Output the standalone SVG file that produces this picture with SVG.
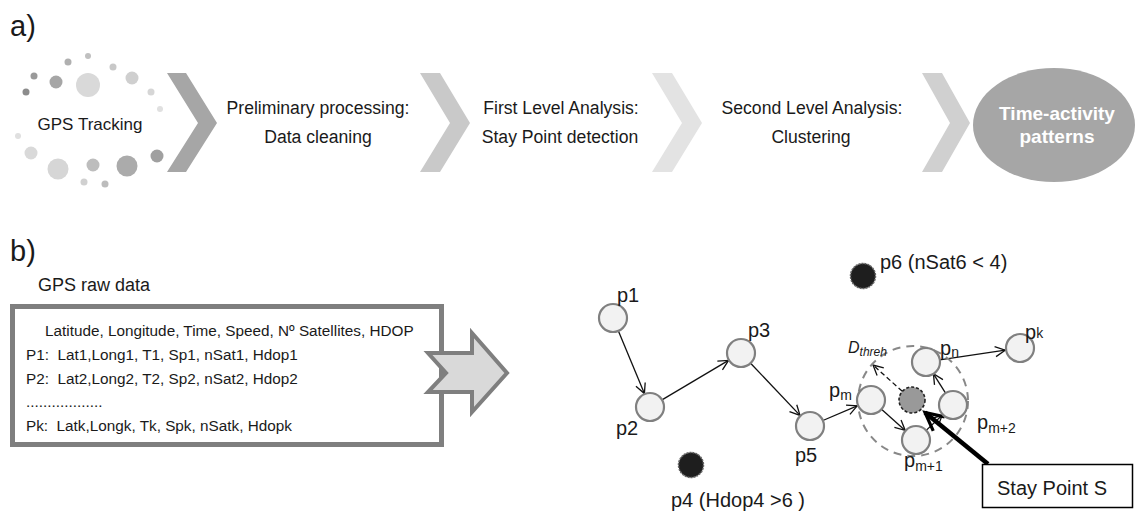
<svg xmlns="http://www.w3.org/2000/svg" width="1135" height="511" viewBox="0 0 1135 511">
<style>
text{font-family:"Liberation Sans",Arial,sans-serif;fill:#1a1a1a}
.step{font-size:17.6px;text-anchor:middle}
.lbl{font-size:20px}
.sub{font-size:14px}
.box{font-size:15.3px}
.pt{fill:#f2f2f2;stroke:#808080;stroke-width:2.2}
.bad{fill:#1e1e1e;stroke:#666;stroke-width:1.5;stroke-dasharray:2 1}
.edge{stroke:#111;stroke-width:1.3;fill:none}
</style>
<defs>
<marker id="ah" viewBox="0 0 12 12" refX="11" refY="6" markerWidth="12" markerHeight="12" markerUnits="userSpaceOnUse" orient="auto">
<path d="M1,1 L11,6 L1,11" fill="none" stroke="#111" stroke-width="1.3"/>
</marker>
<marker id="ahk" viewBox="0 0 12 12" refX="10" refY="6" markerWidth="24" markerHeight="24" markerUnits="userSpaceOnUse" orient="auto">
<path d="M1,1.5 L10,6 L1,10.5" fill="none" stroke="#000" stroke-width="1.6"/>
</marker>
</defs>

<text x="10" y="36" style="font-size:29px">a)</text>
<text x="10" y="261" style="font-size:29px">b)</text>

<g id="gps-tracking">
<circle cx="88" cy="56" r="3" fill="#c0c0c0"/>
<circle cx="68" cy="62" r="3.5" fill="#b0b0b0"/>
<circle cx="113" cy="67" r="3.5" fill="#c8c8c8"/>
<circle cx="34" cy="76" r="3.5" fill="#9a9a9a"/>
<circle cx="56" cy="82" r="6.5" fill="#a6a6a6"/>
<circle cx="88" cy="85" r="12" fill="#d9d9d9"/>
<circle cx="132" cy="78" r="6.5" fill="#cfcfcf"/>
<circle cx="26" cy="92" r="3.5" fill="#8c8c8c"/>
<circle cx="151" cy="92" r="3.5" fill="#d6d6d6"/>
<circle cx="160" cy="109" r="3" fill="#e0e0e0"/>
<circle cx="18" cy="136" r="3" fill="#e0e0e0"/>
<circle cx="31" cy="153" r="6.5" fill="#d9d9d9"/>
<circle cx="157" cy="156" r="6.5" fill="#a0a0a0"/>
<circle cx="58" cy="169" r="10.5" fill="#d6d6d6"/>
<circle cx="93" cy="165" r="6.5" fill="#bdbdbd"/>
<circle cx="127" cy="166" r="10.5" fill="#ababab"/>
<circle cx="84" cy="182" r="3.5" fill="#d0d0d0"/>
<circle cx="105" cy="184" r="3.5" fill="#bcbcbc"/>
<text x="90" y="130" style="font-size:17px;text-anchor:middle">GPS Tracking</text>
</g>

<g id="chevrons">
<path d="M167,73 L186,73 L217,123 L186,172 L167,172 L198,123 Z" fill="#a6a6a6"/>
<path d="M420,73 L440,73 L470,123 L440,172 L420,172 L450,123 Z" fill="#c9c9c9"/>
<path d="M652,73 L672,73 L702,123 L672,172 L652,172 L682,123 Z" fill="#e3e3e3"/>
<path d="M922,73 L942,73 L970,123 L942,172 L922,172 L950,123 Z" fill="#d0d0d0"/>
</g>

<g id="step-preliminary">
<text class="step" x="318" y="114">Preliminary processing:</text>
<text class="step" x="318" y="143">Data cleaning</text>
</g>
<g id="step-first">
<text class="step" x="561" y="114">First Level Analysis:</text>
<text class="step" x="560" y="143">Stay Point detection</text>
</g>
<g id="step-second">
<text class="step" x="812" y="114">Second Level Analysis:</text>
<text class="step" x="811" y="143">Clustering</text>
</g>
<g id="time-activity">
<ellipse cx="1054" cy="125" rx="81" ry="57" fill="#a6a6a6"/>
<text x="1057" y="120" style="font-size:19px;font-weight:bold;fill:#fff;text-anchor:middle">Time-activity</text>
<text x="1057" y="143" style="font-size:19px;font-weight:bold;fill:#fff;text-anchor:middle">patterns</text>
</g>

<g id="raw-data">
<text x="38" y="291" style="font-size:18px">GPS raw data</text>
<rect x="12.5" y="306.5" width="429" height="138" fill="#fff" stroke="#7f7f7f" stroke-width="5"/>
<text class="box" x="45" y="336">Latitude, Longitude, Time, Speed, Nº Satellites, HDOP</text>
<text class="box" x="26" y="360" xml:space="preserve">P1:  Lat1,Long1, T1, Sp1, nSat1, Hdop1</text>
<text class="box" x="26" y="384" xml:space="preserve">P2:  Lat2,Long2, T2, Sp2, nSat2, Hdop2</text>
<text class="box" x="26" y="407">..................</text>
<text class="box" x="26" y="431" xml:space="preserve">Pk:  Latk,Longk, Tk, Spk, nSatk, Hdopk</text>
</g>
<g id="big-arrow">
<path d="M428,353 L472,353 L472,333 L507,373 L472,412 L472,392 L428,392 L446,373 Z" fill="#d9d9d9" stroke="#7f7f7f" stroke-width="4" stroke-linejoin="miter"/>
</g>

<g id="connectors">
<line class="edge" x1="618.4" y1="330.9" x2="644.4" y2="393.6" marker-end="url(#ah)"/>
<line class="edge" x1="662" y1="399.9" x2="728.5" y2="360.4" marker-end="url(#ah)"/>
<line class="edge" x1="750.6" y1="363.2" x2="800" y2="415.4" marker-end="url(#ah)"/>
<line class="edge" x1="822.9" y1="420.5" x2="857.2" y2="405.9" marker-end="url(#ah)"/>
<line class="edge" x1="881.5" y1="409.3" x2="905.2" y2="430.4" marker-end="url(#ah)"/>
<line class="edge" x1="926.2" y1="430.4" x2="942.1" y2="415.3" marker-end="url(#ah)"/>
<line class="edge" x1="945.6" y1="393.1" x2="933.4" y2="373.8" marker-end="url(#ah)"/>
<line class="edge" x1="939.8" y1="359.9" x2="1005.2" y2="350.2" marker-end="url(#ah)"/>
<line class="edge" x1="902.3" y1="391.3" x2="873" y2="365" stroke-dasharray="5 3" marker-end="url(#ah)"/>
<line x1="988" y1="464" x2="925" y2="412.5" stroke="#000" stroke-width="4.5" marker-end="url(#ahk)"/>
</g>

<g id="threshold">
<circle cx="913" cy="401" r="55" fill="none" stroke="#888" stroke-width="2" stroke-dasharray="8 6"/>
<text x="848" y="353" style="font-size:16px;font-style:italic">D<tspan style="font-size:12px" dy="3">threh</tspan></text>
</g>

<g id="p1"><circle class="pt" cx="613" cy="318" r="14"/><text class="lbl" x="617" y="302">p1</text></g>
<g id="p2"><circle class="pt" cx="650" cy="407" r="14"/><text class="lbl" x="616" y="435">p2</text></g>
<g id="p3"><circle class="pt" cx="741" cy="353" r="14"/><text class="lbl" x="748" y="337">p3</text></g>
<g id="p4"><circle class="bad" cx="691" cy="465" r="12.5"/><text class="lbl" x="671" y="507">p4 (Hdop4 &gt;6 )</text></g>
<g id="p5"><circle class="pt" cx="810" cy="426" r="14"/><text class="lbl" x="795" y="462">p5</text></g>
<g id="p6"><circle class="bad" cx="863" cy="276" r="12.5"/><text class="lbl" x="880" y="269">p6 (nSat6 &lt; 4)</text></g>
<g id="pm"><circle class="pt" cx="871" cy="400" r="14"/><text class="lbl" x="829" y="397">p<tspan class="sub" dy="3">m</tspan></text></g>
<g id="pm1"><circle class="pt" cx="916" cy="440" r="14"/><text class="lbl" x="904" y="467">p<tspan class="sub" dy="4">m+1</tspan></text></g>
<g id="pm2"><circle class="pt" cx="953" cy="405" r="14"/><text class="lbl" x="977" y="429">p<tspan class="sub" dy="4">m+2</tspan></text></g>
<g id="pn"><circle class="pt" cx="926" cy="362" r="14"/><text class="lbl" x="940" y="355">p<tspan class="sub" dy="2">n</tspan></text></g>
<g id="pk"><circle class="pt" cx="1020" cy="348" r="14"/><text class="lbl" x="1025" y="339">p<tspan class="sub" dy="-1">k</tspan></text></g>
<g id="stay-point"><circle cx="912" cy="400" r="13" fill="#999" stroke="#222" stroke-width="1.6" stroke-dasharray="3 2"/></g>

<g id="stay-point-label">
<rect x="982.5" y="464.5" width="150" height="43" fill="#fff" stroke="#000" stroke-width="1.5"/>
<text x="997" y="495" style="font-size:20px">Stay Point S</text>
</g>
</svg>
